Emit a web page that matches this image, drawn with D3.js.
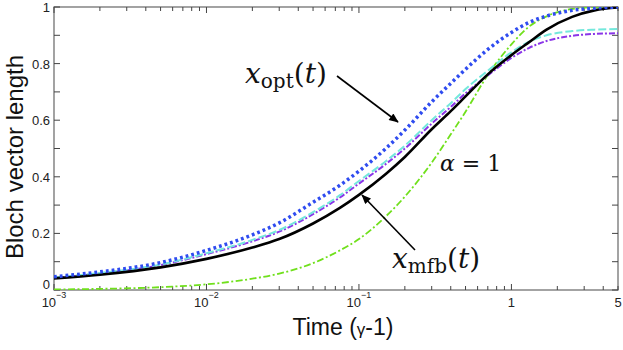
<!DOCTYPE html>
<html>
<head>
<meta charset="utf-8">
<script src="https://cdn.jsdelivr.net/npm/d3@7"></script>
<style>
  body { margin: 0; background: #fff; }
  svg { display: block; }
  .tick-label { font-family: "Liberation Sans", Arial, sans-serif; font-size: 13px; fill: #222; }
  .math { font-family: "DejaVu Serif", "Liberation Serif", serif; fill: #111; }
</style>
</head>
<body>
<svg width="623" height="350"></svg>
<script>
const width = 623;
const height = 350;

// time points (in 1/gamma)
const times = [0.001, 0.002, 0.005, 0.01, 0.02, 0.03, 0.05, 0.075, 0.1, 0.15, 0.2, 0.3, 0.4, 0.5, 0.7, 1, 1.3, 1.7, 2.5, 3.5, 5];

// Bloch vector lengths
const mfb    = [0.041, 0.054, 0.080, 0.110, 0.150, 0.180, 0.235, 0.290, 0.336, 0.410, 0.470, 0.568, 0.632, 0.684, 0.762, 0.830, 0.875, 0.920, 0.965, 0.988, 0.998];
const opt    = [0.047, 0.064, 0.097, 0.140, 0.195, 0.237, 0.310, 0.370, 0.420, 0.500, 0.565, 0.665, 0.730, 0.780, 0.850, 0.910, 0.945, 0.968, 0.988, 0.996, 1.0];
const cyanS  = [0.044, 0.060, 0.090, 0.130, 0.177, 0.212, 0.275, 0.335, 0.385, 0.455, 0.510, 0.600, 0.660, 0.710, 0.775, 0.840, 0.877, 0.900, 0.915, 0.920, 0.922];
const purpS  = [0.043, 0.058, 0.088, 0.127, 0.172, 0.206, 0.268, 0.327, 0.376, 0.445, 0.500, 0.588, 0.647, 0.695, 0.758, 0.820, 0.855, 0.880, 0.898, 0.905, 0.907];
const alpha1 = [0.002, 0.004, 0.010, 0.020, 0.040, 0.058, 0.095, 0.140, 0.180, 0.260, 0.330, 0.450, 0.550, 0.630, 0.760, 0.868, 0.930, 0.967, 0.993, 0.999, 1.0];

const yTicks = [0, 0.1, 0.2, 0.3, 0.4, 0.5, 0.6, 0.7, 0.8, 0.9, 1];
const yLabels = [0, 0.2, 0.4, 0.6, 0.8, 1];
const xLabels = [
  {v: 0.001, base: "10", exp: "\u22123"},
  {v: 0.01, base: "10", exp: "\u22122"},
  {v: 0.1, base: "10", exp: "\u22121"},
  {v: 1, base: "1", exp: ""},
  {v: 5, base: "5", exp: ""}
];

const x = d3.scaleLog().domain([0.001, 5]).range([54, 618]);
const y = d3.scaleLinear().domain([0, 1]).range([290, 7]);

const svg = d3.select("svg");

svg.append("clipPath").attr("id", "plot")
  .append("rect")
  .attr("x", 54).attr("y", 7).attr("width", 564).attr("height", 283);

// minor + major x ticks
let xTickVals = [];
for (let e = -3; e <= 0; e++) {
  for (let m = 1; m <= 9; m++) {
    const v = m * Math.pow(10, e);
    if (v <= 5) xTickVals.push(v);
  }
}

const g = svg.append("g");

// frame
g.append("rect")
  .attr("x", 54).attr("y", 7).attr("width", 564).attr("height", 283)
  .attr("fill", "none").attr("stroke", "#666").attr("stroke-width", 1.2);

xTickVals.forEach(v => {
  const major = Math.abs(Math.log10(v) - Math.round(Math.log10(v))) < 1e-9;
  const len = major ? 6 : 4;
  g.append("line").attr("x1", x(v)).attr("x2", x(v)).attr("y1", 290).attr("y2", 290 - len)
    .attr("stroke", "#444").attr("stroke-width", 1);
  g.append("line").attr("x1", x(v)).attr("x2", x(v)).attr("y1", 7).attr("y2", 7 + len)
    .attr("stroke", "#444").attr("stroke-width", 1);
});

yTicks.forEach(v => {
  g.append("line").attr("x1", 54).attr("x2", 60).attr("y1", y(v)).attr("y2", y(v))
    .attr("stroke", "#444").attr("stroke-width", 1);
  g.append("line").attr("x1", 618).attr("x2", 612).attr("y1", y(v)).attr("y2", y(v))
    .attr("stroke", "#444").attr("stroke-width", 1);
});

yLabels.forEach(v => {
  g.append("text").attr("class", "tick-label")
    .attr("x", 50)
    .attr("y", (v === 0 ? y(v) - 6 : y(v)) + 5)
    .attr("text-anchor", "end")
    .text(v);
});

xLabels.forEach(d => {
  const t = g.append("text").attr("class", "tick-label")
    .attr("x", x(d.v)).attr("y", 307).attr("text-anchor", "middle");
  t.append("tspan").text(d.base);
  if (d.exp) {
    t.append("tspan").attr("dy", -9).attr("font-size", "9px").text(d.exp);
  }
});

// axis titles
svg.append("text")
  .attr("transform", "translate(23,157) rotate(-90)")
  .attr("text-anchor", "middle")
  .style("font-family", "'Liberation Sans', Arial, sans-serif")
  .style("font-size", "24px")
  .style("fill", "#111")
  .text("Bloch vector length");

const xt = svg.append("text")
  .attr("x", 343).attr("y", 335)
  .attr("text-anchor", "middle")
  .style("font-family", "'Liberation Sans', Arial, sans-serif")
  .style("font-size", "23px")
  .style("fill", "#111");
xt.append("tspan").text("Time (");
xt.append("tspan").attr("font-size", "17px").text("\u03b3");
xt.append("tspan").text("-1)");

// curves
const series = [
  {vals: alpha1, color: "#70e01c", width: 1.8, dash: "7,2.5,2,2.5"},
  {vals: purpS, color: "#8a35e8", width: 2, dash: "6,2,2,2"},
  {vals: cyanS, color: "#74e8dc", width: 2, dash: "8,3"},
  {vals: mfb, color: "#000", width: 2.6, dash: null},
  {vals: opt, color: "#2f4cf0", width: 3.5, dash: "2.8,3"}
];

const line = d3.line()
  .x(d => x(d[0]))
  .y(d => y(d[1]))
  .curve(d3.curveMonotoneX);

const lines = svg.append("g").attr("clip-path", "url(#plot)");
lines.selectAll("path")
  .data(series)
  .join("path")
  .attr("d", s => line(times.map((t, i) => [t, s.vals[i]])))
  .attr("fill", "none")
  .attr("stroke", s => s.color)
  .attr("stroke-width", s => s.width)
  .attr("stroke-dasharray", s => s.dash);

// arrows
const defs = svg.append("defs");
defs.append("marker")
  .attr("id", "arrow")
  .attr("viewBox", "0 0 12 10")
  .attr("refX", 11).attr("refY", 5)
  .attr("markerWidth", 11).attr("markerHeight", 8)
  .attr("markerUnits", "userSpaceOnUse")
  .attr("orient", "auto")
  .append("path").attr("d", "M0,0 L12,5 L0,10 z").attr("fill", "#000");

svg.append("line")
  .attr("x1", 337).attr("y1", 76).attr("x2", 398).attr("y2", 122)
  .attr("stroke", "#000").attr("stroke-width", 1.6)
  .attr("marker-end", "url(#arrow)");
svg.append("line")
  .attr("x1", 415).attr("y1", 250).attr("x2", 362).attr("y2", 195)
  .attr("stroke", "#000").attr("stroke-width", 1.6)
  .attr("marker-end", "url(#arrow)");

// annotations
function subLabel(x0, y0, sub) {
  const t = svg.append("text").attr("class", "math")
    .attr("x", x0).attr("y", y0)
    .style("font-size", "28px");
  t.append("tspan").style("font-style", "italic").text("x");
  t.append("tspan").attr("dy", 5).style("font-size", "20px").text(sub);
  t.append("tspan").attr("dy", -5).text("(");
  t.append("tspan").style("font-style", "italic").text("t");
  t.append("tspan").text(")");
}
subLabel(245, 83, "opt");
subLabel(392, 268, "mfb");

const aLbl = svg.append("text").attr("class", "math")
  .attr("x", 440).attr("y", 171)
  .style("font-size", "22px");
aLbl.append("tspan").style("font-style", "italic").text("\u03b1");
aLbl.append("tspan").text(" = 1");
</script>
</body>
</html>
